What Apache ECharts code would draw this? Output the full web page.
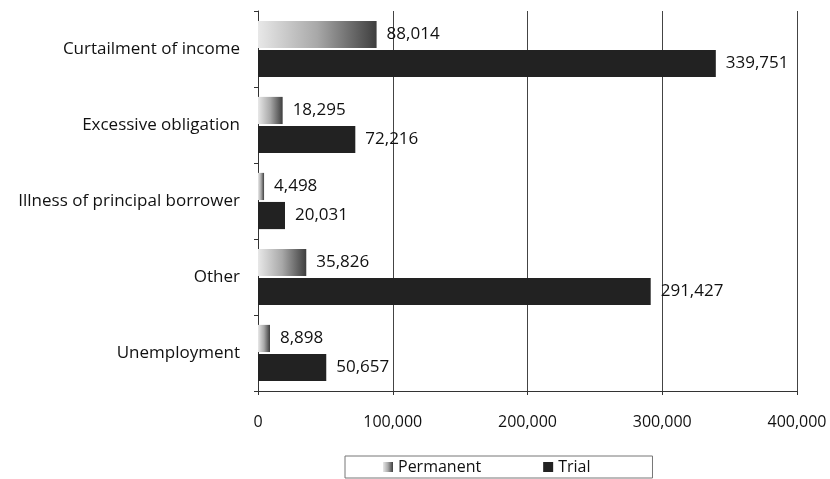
<!DOCTYPE html>
<html><head><meta charset="utf-8">
<script src="https://cdn.jsdelivr.net/npm/echarts@6/dist/echarts.min.js"></script>
<style>html,body{margin:0;padding:0;background:#fff}#c{width:830px;height:479px}</style>
</head><body><div id="c"></div>
<script>
var categories = ["Curtailment of income","Excessive obligation","Illness of principal borrower","Other","Unemployment"];
var permanent = [88014, 18295, 4498, 35826, 8898];
var trial = [339751, 72216, 20031, 291427, 50657];
var FONT = "Open Sans";
var chart = echarts.init(document.getElementById('c'));
var lbl = {show:true, position:'right', distance:10, color:'#111', fontFamily:FONT, fontSize:17,
  formatter:function(p){return p.value.toLocaleString('en-US');}};
chart.setOption({
  backgroundColor:'#fff',
  animation:false,
  grid:{left:258, right:33, top:11, bottom:88},
  legend:{
    bottom:1, left:345, padding:[3,62,3,38], itemGap:62,
    borderColor:'#777', borderWidth:1,
    itemWidth:10, itemHeight:10, icon:'rect',
    textStyle:{fontFamily:FONT, fontSize:16, color:'#111'},
    data:['Permanent','Trial']
  },
  xAxis:{type:'value', min:0, max:400000, interval:100000,
    axisLine:{show:true, lineStyle:{color:'#333'}},
    axisTick:{show:true, length:4, lineStyle:{color:'#333'}},
    splitLine:{show:true, lineStyle:{color:'#444', width:1}},
    axisLabel:{margin:23, color:'#111', fontFamily:FONT, fontSize:16,
      formatter:function(v){return v.toLocaleString('en-US');}}
  },
  yAxis:{type:'category', data:categories, inverse:true,
    axisLine:{show:true, lineStyle:{color:'#333'}},
    axisTick:{show:true, length:4, lineStyle:{color:'#333'}},
    axisLabel:{margin:18, color:'#111', fontFamily:FONT, fontSize:17, padding:[6,0,0,0]}
  },
  series:[
    {name:'Permanent', type:'bar', data:permanent, barCategoryGap:'26%', barGap:'7%',
     itemStyle:{color:new echarts.graphic.LinearGradient(0,0,1,0,[{offset:0,color:'#e8e8e8'},{offset:0.5,color:'#a8a8a8'},{offset:1,color:'#3e3e3e'}])},
     label:lbl},
    {name:'Trial', type:'bar', data:trial, barCategoryGap:'26%', barGap:'7%',
     itemStyle:{color:'#222'}, label:lbl}
  ]
});
</script></body></html>
